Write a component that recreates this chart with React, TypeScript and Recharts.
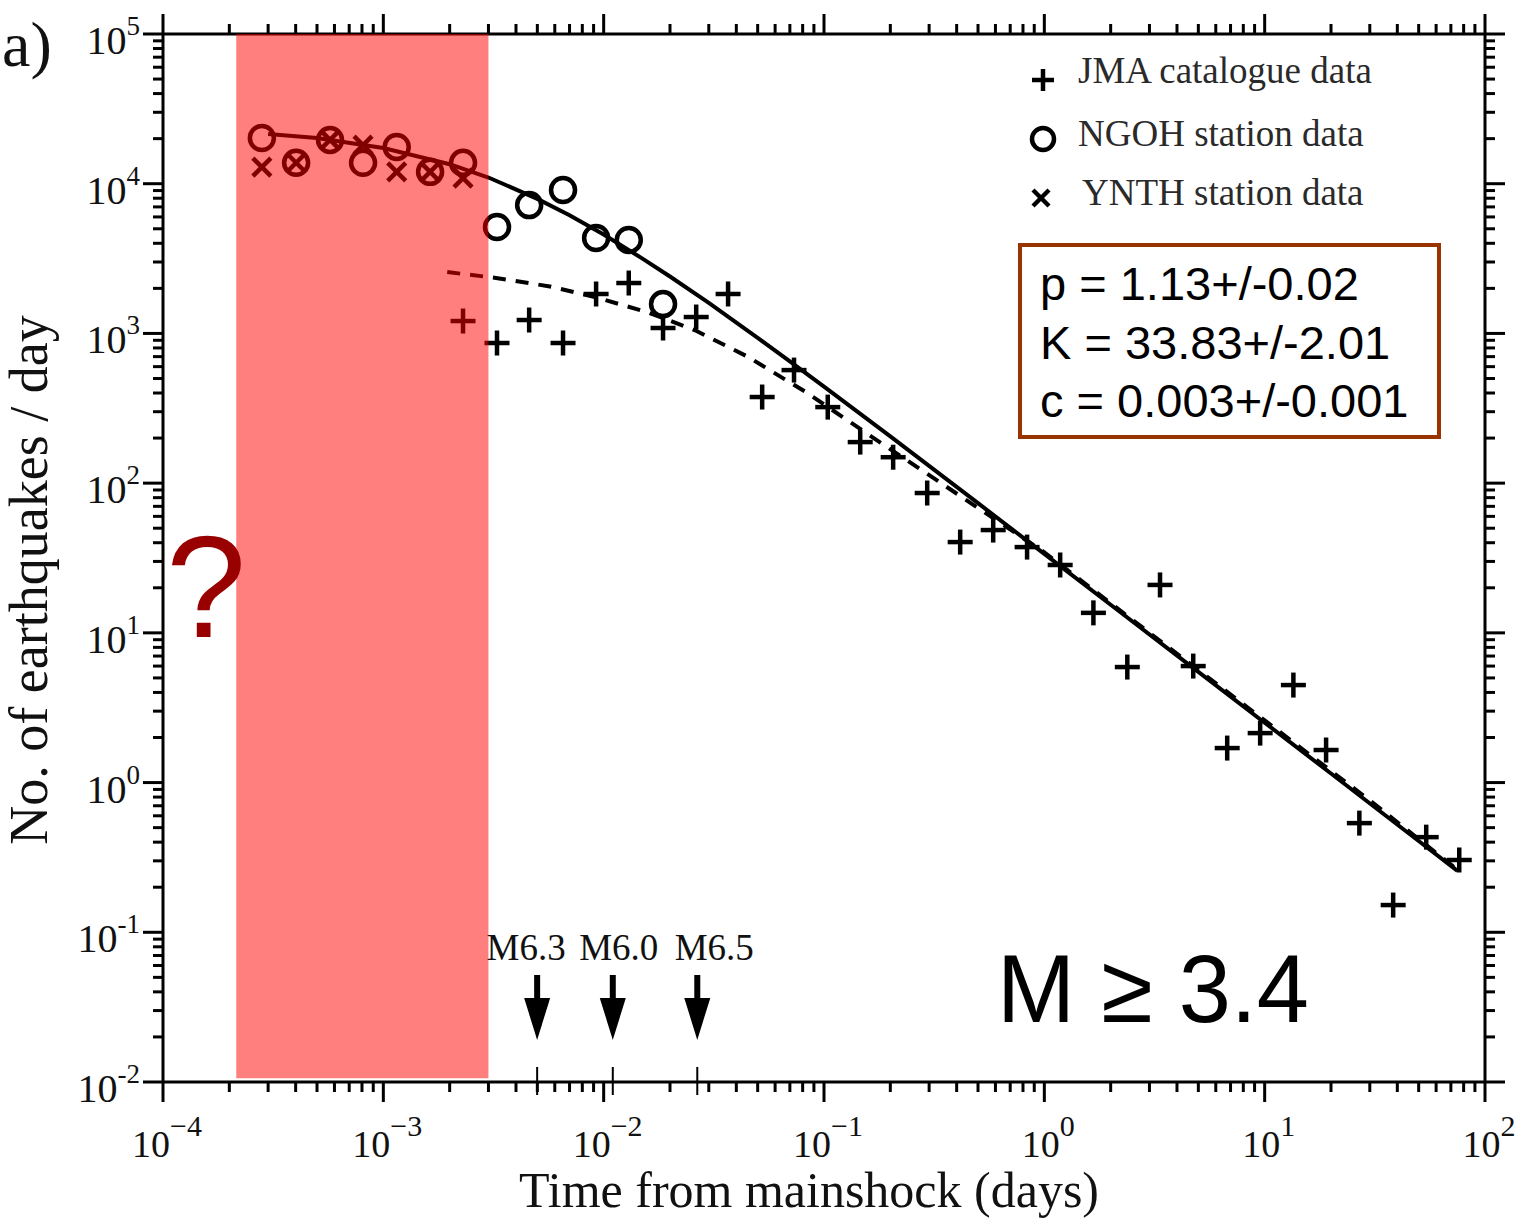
import React from "react";
import { ComposedChart, Scatter, XAxis, YAxis, ReferenceArea, ReferenceLine, Legend } from "recharts";

const W = 1517;
const H = 1219;

// JMA catalogue counts per day (+)
const jmaTime = [0.0023, 0.00328, 0.00459, 0.00654, 0.00924, 0.013, 0.0186, 0.0263, 0.0367, 0.0524, 0.0731, 0.104, 0.146, 0.206, 0.294, 0.415, 0.586, 0.835, 1.18, 1.67, 2.38, 3.35, 4.74, 6.76, 9.54, 13.5, 19.0, 26.9, 38.3, 54.1, 76.4];
const jmaRate = [1210, 863, 1229, 863, 1834, 2171, 1087, 1287, 1834, 376, 569, 322, 188, 149, 85.9, 40.4, 48.6, 37.4, 28.4, 13.6, 5.91, 20.9, 6.0, 1.7, 2.14, 4.48, 1.65, 0.536, 0.152, 0.432, 0.304];

// NGOH station (o)
const ngohTime = [0.000281, 0.000402, 0.000573, 0.000809, 0.00115, 0.00163, 0.0023, 0.00328, 0.00459, 0.00654, 0.00924, 0.013, 0.0186];
const ngohRate = [20200, 13800, 19600, 13800, 17600, 12000, 13800, 5140, 7200, 9080, 4340, 4210, 1570];

// YNTH station (x)
const ynthTime = [0.000281, 0.000402, 0.000573, 0.000809, 0.00115, 0.00163, 0.0023];
const ynthRate = [12900, 13800, 19600, 18100, 12000, 12000, 10900];

// fitted curve, all data (solid)
const fitTime = [0.0003, 0.0005, 0.001, 0.002, 0.003, 0.005, 0.007, 0.01, 0.015, 0.02, 0.03, 0.05, 0.07, 0.1, 0.2, 0.5, 1, 2, 5, 10, 20, 50, 75];
const fitRate = [21500, 20200, 17300, 13500, 11000, 7920, 6160, 4580, 3160, 2400, 1600, 935, 651, 441, 205, 73.5, 33.7, 15.4, 5.49, 2.51, 1.15, 0.407, 0.257];

// fitted curve, JMA only (dashed)
const jmaFitTime = [0.00195, 0.0033, 0.0057, 0.0091, 0.0157, 0.026, 0.045, 0.084, 0.16, 0.33, 0.51, 1, 3, 10, 30, 73];
const jmaFitRate = [2570, 2340, 2060, 1750, 1390, 1050, 700, 400, 210, 103, 67, 34.5, 10.0, 2.6, 0.76, 0.27];

// large aftershocks
const eventTime = [0.00499, 0.011, 0.0266];
const eventLabel = ["M6.3", "M6.0", "M6.5"];
const eventLabelDx = [-11, 6, 17];

const xDecades = [-4, -3, -2, -1, 0, 1, 2];
const yDecades = [-2, -1, 0, 1, 2, 3, 4, 5];

const paramLines = ["p = 1.13+/-0.02", "K = 33.83+/-2.01", "c = 0.003+/-0.001"];
const legendItems = [
  { label: "JMA catalogue data", marker: "plus" },
  { label: "NGOH station data", marker: "circle" },
  { label: "YNTH station data", marker: "cross" },
];

const zip = (t: number[], n: number[]) => t.map((v, i) => ({ t: v, n: n[i] }));

const logTicks = (decades: number[]) => {
  const out: number[] = [];
  decades.forEach((d, i) => {
    out.push(Math.pow(10, d));
    if (i < decades.length - 1) {
      for (let m = 2; m <= 9; m++) out.push(m * Math.pow(10, d));
    }
  });
  return out;
};

const xTicks = logTicks(xDecades);
const yTicks = logTicks(yDecades);

const SERIF = "'Liberation Serif', 'Times New Roman', serif";
const SANS = "'Liberation Sans', Arial, sans-serif";

const expOf = (v: number) => Math.round(Math.log10(v));
const isMajor = (v: number) => Math.abs(Math.log10(v) - expOf(v)) < 1e-6;

function LeftTick(props: any) {
  const { x, y, payload } = props;
  const major = isMajor(payload.value);
  const e = expOf(payload.value);
  return (
    <g>
      <line x1={x - (major ? 20 : 10)} x2={x} y1={y} y2={y} stroke="#000" strokeWidth={3} />
      {major && (
        <text x={x - 23} y={y + 20} textAnchor="end" fontFamily={SERIF} fontSize={40} fill="#111">
          10
          <tspan fontSize={27} dy={-19}>{e < 0 ? `-${-e}` : `${e}`}</tspan>
        </text>
      )}
    </g>
  );
}

function RightTick(props: any) {
  const { x, y, payload } = props;
  const major = isMajor(payload.value);
  return <line x1={x} x2={x + (major ? 20 : 10)} y1={y} y2={y} stroke="#000" strokeWidth={3} />;
}

function BottomTick(props: any) {
  const { x, y, payload } = props;
  const major = isMajor(payload.value);
  const e = expOf(payload.value);
  return (
    <g>
      <line x1={x} x2={x} y1={y} y2={y + (major ? 20 : 10)} stroke="#000" strokeWidth={3} />
      {major && (
        <text x={x + 4} y={y + 75} textAnchor="middle" fontFamily={SERIF} fontSize={38} fill="#111">
          10
          <tspan fontSize={30} dy={-21}>{e < 0 ? `\u2212${-e}` : `${e}`}</tspan>
        </text>
      )}
    </g>
  );
}

function TopTick(props: any) {
  const { x, y, payload } = props;
  const major = isMajor(payload.value);
  return <line x1={x} x2={x} y1={y - (major ? 20 : 10)} y2={y} stroke="#000" strokeWidth={3} />;
}

function Plus({ cx, cy, s = 12.5 }: any) {
  return (
    <g stroke="#000" strokeWidth={4.5}>
      <line x1={cx - s} x2={cx + s} y1={cy} y2={cy} />
      <line x1={cx} x2={cx} y1={cy - s} y2={cy + s} />
    </g>
  );
}

function Ring({ cx, cy, r = 12 }: any) {
  return <circle cx={cx} cy={cy} r={r} fill="none" stroke="#000" strokeWidth={4.5} />;
}

function Cross({ cx, cy, s = 9 }: any) {
  return (
    <g stroke="#000" strokeWidth={4.5}>
      <line x1={cx - s} x2={cx + s} y1={cy - s} y2={cy + s} />
      <line x1={cx - s} x2={cx + s} y1={cy + s} y2={cy - s} />
    </g>
  );
}

const noDot = () => <g />;

function EventArrow(props: any, i: number) {
  const x = props.x1;
  const base = Math.max(props.y1, props.y2);
  const tip = base - 42;
  return (
    <g>
      <line x1={x} x2={x} y1={base - 107} y2={tip - 30} stroke="#000" strokeWidth={6} />
      <polygon points={`${x - 13},${tip - 42} ${x + 13},${tip - 42} ${x},${tip}`} fill="#000" />
      <line x1={x} x2={x} y1={base - 15} y2={base + 13} stroke="#000" strokeWidth={2} />
      <text x={x + eventLabelDx[i]} y={base - 122} textAnchor="middle" fontFamily={SERIF} fontSize={37} fill="#111">
        {eventLabel[i]}
      </text>
    </g>
  );
}

function LegendBox() {
  return (
    <svg width={420} height={180}>
      {legendItems.map((it, i) => {
        const cy = 32 + i * 59;
        return (
          <g key={it.label}>
            {it.marker === "plus" && <Plus cx={23} cy={cy} s={11} />}
            {it.marker === "circle" && <Ring cx={23} cy={cy} r={11} />}
            {it.marker === "cross" && <Cross cx={21} cy={cy} s={8} />}
            <text x={i === 2 ? 62 : 58} y={cy + 5 + (i === 0 ? -2 : 2)} fontFamily={SERIF} fontSize={37} fill="#2a2a2a">
              {it.label}
            </text>
          </g>
        );
      })}
    </svg>
  );
}

const axisStyle = { stroke: "#000", strokeWidth: 3 };

export default function App() {
  return (
    <div style={{ position: "absolute", left: 0, top: 0, width: W, height: H, background: "#fff" }}>
      <ComposedChart width={W} height={H} margin={{ top: 14, right: 12, bottom: 0, left: 63 }}>
        <XAxis
          dataKey="t"
          type="number"
          scale="log"
          domain={[1e-4, 100]}
          allowDataOverflow
          ticks={xTicks}
          interval={0}
          tick={BottomTick}
          tickLine={false}
          tickSize={0}
          tickMargin={0}
          height={137}
          axisLine={axisStyle}
        />
        <XAxis
          xAxisId="top"
          orientation="top"
          dataKey="t"
          type="number"
          scale="log"
          domain={[1e-4, 100]}
          allowDataOverflow
          ticks={xTicks}
          interval={0}
          tick={TopTick}
          tickLine={false}
          tickSize={0}
          tickMargin={0}
          height={20}
          axisLine={axisStyle}
        />
        <YAxis
          dataKey="n"
          type="number"
          scale="log"
          domain={[1e-2, 1e5]}
          allowDataOverflow
          ticks={yTicks}
          interval={0}
          tick={LeftTick}
          tickLine={false}
          tickSize={0}
          tickMargin={0}
          width={100}
          axisLine={axisStyle}
        />
        <YAxis
          yAxisId="right"
          orientation="right"
          dataKey="n"
          type="number"
          scale="log"
          domain={[1e-2, 1e5]}
          allowDataOverflow
          ticks={yTicks}
          interval={0}
          tick={RightTick}
          tickLine={false}
          tickSize={0}
          tickMargin={0}
          width={20}
          axisLine={axisStyle}
        />
        <Legend
          layout="horizontal"
          verticalAlign="middle"
          align="center"
          wrapperStyle={{ left: 1020, top: 48, width: 420, height: 180 }}
          content={() => <LegendBox />}
        />
        <Scatter
          name="fit"
          data={zip(fitTime, fitRate)}
          line={{ stroke: "#000", strokeWidth: 4 }}
          lineType="joint"
          shape={noDot}
          isAnimationActive={false}
        />
        <Scatter
          name="fitJma"
          data={zip(jmaFitTime, jmaFitRate)}
          line={{ stroke: "#000", strokeWidth: 4, strokeDasharray: "13 10" }}
          lineType="joint"
          shape={noDot}
          isAnimationActive={false}
        />
        <Scatter name="JMA catalogue data" data={zip(jmaTime, jmaRate)} shape={(p: any) => <Plus cx={p.cx} cy={p.cy} />} isAnimationActive={false} />
        <Scatter name="NGOH station data" data={zip(ngohTime, ngohRate)} shape={(p: any) => <Ring cx={p.cx} cy={p.cy} />} isAnimationActive={false} />
        <Scatter name="YNTH station data" data={zip(ynthTime, ynthRate)} shape={(p: any) => <Cross cx={p.cx} cy={p.cy} />} isAnimationActive={false} />
        {eventTime.map((t, i) => (
          <ReferenceLine key={eventLabel[i]} x={t} stroke="none" shape={(p: any) => EventArrow(p, i)} />
        ))}
        <ReferenceArea
          x1={2.15e-4}
          x2={0.003}
          y1={0.0106}
          y2={1e5}
          fill="#ff0000"
          fillOpacity={0.5}
          stroke="none"
          ifOverflow="visible"
          zIndex={2500}
        />
      </ComposedChart>
      <svg width={W} height={H} style={{ position: "absolute", left: 0, top: 0, pointerEvents: "none" }}>
        <text x={2} y={66} fontFamily={SERIF} fontSize={64} fill="#111">a)</text>
        <text x={47} y={580} transform="rotate(-90, 47, 580)" textAnchor="middle" fontFamily={SERIF} fontSize={54} fill="#111">
          No. of earthquakes / day
        </text>
        <text x={809} y={1207} textAnchor="middle" fontFamily={SERIF} fontSize={50} fill="#111">
          Time from mainshock (days)
        </text>
        <text x={166} y={637} fontFamily={SANS} fontSize={144} fill="#990000">?</text>
        <rect x={1020} y={245} width={419} height={192} fill="none" stroke="#993300" strokeWidth={4} />
        {paramLines.map((s, i) => (
          <text key={s} x={1040} y={300 + i * 58.5} fontFamily={SANS} fontSize={47} fill="#000">
            {s}
          </text>
        ))}
        <text x={997} y={1022} fontFamily={SANS} fontSize={97} fill="#000" textLength={312} lengthAdjust="spacingAndGlyphs">
          M {"\u2265"} 3.4
        </text>
      </svg>
    </div>
  );
}
